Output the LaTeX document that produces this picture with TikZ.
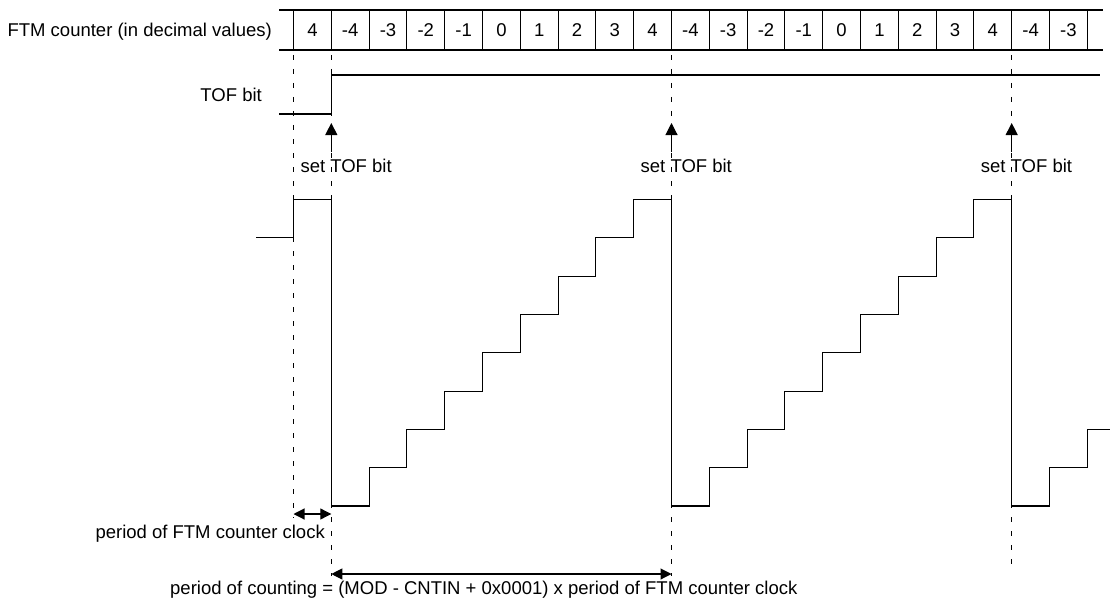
\documentclass[tikz,border=0pt]{standalone}
\usepackage{fontspec}
\setmainfont{Liberation Sans}
\usetikzlibrary{arrows.meta}
\begin{document}
\begin{tikzpicture}[x=1pt,y=-1pt,
  wave/.style={line width=1.1pt, black, line join=miter},
  guide/.style={line width=1pt, dash pattern=on 5pt off 9pt},
  uptip/.style={line width=1.1pt, -{Triangle[length=12pt,width=12pt]}},
  dtip/.style={line width=1.1pt, {Triangle[length=11pt,width=11pt]}-{Triangle[length=11pt,width=11pt]}},
  lbl/.style={font=\fontsize{18.5}{22}\selectfont, inner sep=0pt}]
\useasboundingbox (0,0) rectangle (1110,599);
\def\xo{293.5}
\def\cw{37.8}
% counter row
\draw[wave] (279,10) -- (1103,10);
\draw[wave] (279,50) -- (1103,50);
\foreach \k in {0,...,21} \draw[wave] ({\xo+\k*\cw},10) -- ({\xo+\k*\cw},50);
\foreach \v [count=\k from 0] in {4,-4,-3,-2,-1,0,1,2,3,4,-4,-3,-2,-1,0,1,2,3,4,-4,-3}
  \node[lbl, anchor=base] (c\k) at ({\xo+(\k+0.5)*\cw},36.5) {\v};
\node[lbl, anchor=base east] (ftm) at (272,36.5) {FTM counter (in decimal values)};
% TOF bit
\node[lbl, anchor=base east] (tof) at (262,102) {TOF bit};
\draw[wave] (279,114) -- ({\xo+\cw},114) -- ({\xo+\cw},75) -- (1100,75);
% guides
\foreach \x/\e in {0/518, 1/576, 10/576, 19/568}
  \draw[guide] ({\xo+\x*\cw},55) -- ({\xo+\x*\cw},\e);
% set TOF bit arrows
\foreach \k [count=\i] in {1,10,19} {
  \coordinate (s\i) at ({\xo+\k*\cw},152);
  \coordinate (t\i) at ({\xo+\k*\cw},123);
  \draw[uptip] (s\i) -- (t\i);
  \node[lbl, anchor=base west] (set\i) at ({\xo+\k*\cw-31},172) {set TOF bit};
}
% waveform
\def\lo{506}
\def\st{38.3}
\draw[wave] (256,{\lo-7*\st}) -- (\xo,{\lo-7*\st}) -- (\xo,{\lo-8*\st}) -- ({\xo+\cw},{\lo-8*\st})
  -- ({\xo+\cw},\lo)
  \foreach \j in {1,...,8} { -- ({\xo+(\j)*\cw+\cw},{\lo-(\j-1)*\st}) -- ({\xo+(\j)*\cw+\cw},{\lo-\j*\st}) }
  -- ({\xo+10*\cw},{\lo-8*\st}) -- ({\xo+10*\cw},\lo)
  \foreach \j in {1,...,8} { -- ({\xo+(\j+10)*\cw},{\lo-(\j-1)*\st}) -- ({\xo+(\j+10)*\cw},{\lo-\j*\st}) }
  -- ({\xo+19*\cw},{\lo-8*\st}) -- ({\xo+19*\cw},\lo)
  -- ({\xo+20*\cw},\lo) -- ({\xo+20*\cw},{\lo-\st}) -- ({\xo+21*\cw},{\lo-\st}) -- ({\xo+21*\cw},{\lo-2*\st}) -- (1110,{\lo-2*\st});
% period arrows
\coordinate (p1a) at (\xo,514);
\coordinate (p1b) at ({\xo+\cw},514);
\draw[dtip] (p1a) -- (p1b);
\node[lbl, anchor=base east] (pclk) at (325,538) {period of FTM counter clock};
\coordinate (p2a) at ({\xo+\cw},574);
\coordinate (p2b) at ({\xo+10*\cw},574);
\draw[dtip] (p2a) -- (p2b);
\node[lbl, anchor=base west] (pcnt) at (170,594) {period of counting = (MOD - CNTIN + 0x0001) x period of FTM counter clock};
\end{tikzpicture}
\end{document}
